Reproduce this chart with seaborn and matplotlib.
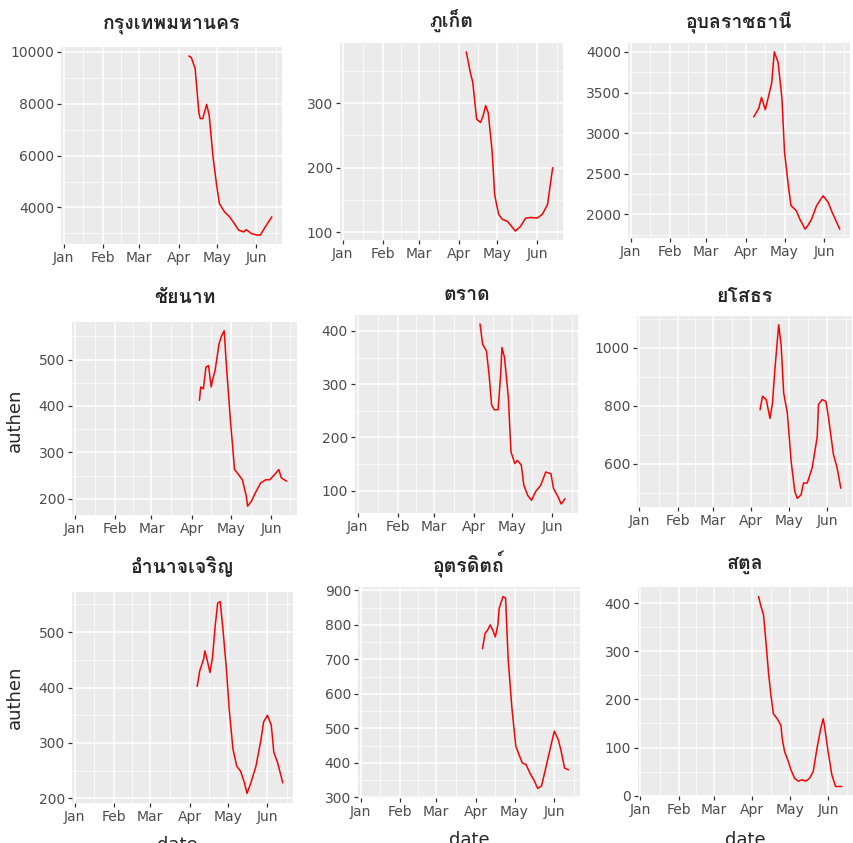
import pandas as pd
import matplotlib
matplotlib.use("Agg")
import matplotlib.pyplot as plt
import seaborn as sns
from matplotlib import font_manager
from matplotlib.ft2font import FT2Font

# day of year 2021 (0 = Jan 1) and "authen" values
bkk_day = [98, 100, 103, 106, 107, 109, 112, 114, 117, 120, 122, 126, 130, 134, 137, 141, 143, 147, 151, 154, 158, 163]
bkk_val = [9830, 9770, 9350, 7620, 7420, 7420, 7970, 7550, 5950, 4800, 4150, 3830, 3640, 3360, 3130, 3060, 3150, 3000, 2940, 2940, 3260, 3640]

pkt_day = [96, 99, 101, 104, 107, 109, 111, 113, 116, 118, 121, 124, 128, 130, 134, 138, 142, 146, 151, 155, 159, 163]
pkt_val = [379, 348, 332, 275, 270, 280, 296, 285, 226, 158, 128, 120, 117, 112, 102, 109, 122, 123, 122, 128, 143, 200]

ubn_day = [96, 100, 102, 105, 107, 110, 112, 115, 118, 120, 123, 125, 129, 132, 136, 138, 141, 145, 150, 154, 157, 163]
ubn_val = [3200, 3310, 3440, 3290, 3420, 3620, 4000, 3870, 3420, 2760, 2350, 2110, 2050, 1940, 1820, 1860, 1940, 2110, 2230, 2150, 2030, 1820]

cnt_day = [96, 97, 99, 101, 103, 105, 106, 108, 111, 113, 115, 117, 120, 123, 125, 129, 132, 133, 136, 139, 143, 147, 150, 155, 157, 159, 163]
cnt_val = [412, 441, 437, 484, 487, 441, 455, 476, 533, 551, 562, 476, 362, 263, 256, 241, 206, 184, 195, 213, 234, 241, 241, 256, 263, 245, 238]

trt_day = [95, 97, 100, 102, 104, 106, 109, 111, 112, 114, 117, 119, 122, 124, 127, 129, 132, 135, 138, 142, 146, 150, 152, 155, 158, 161]
trt_val = [413, 375, 362, 318, 261, 252, 252, 318, 369, 350, 274, 173, 151, 157, 148, 110, 91, 82, 98, 110, 135, 132, 104, 91, 75, 85]

yst_day = [97, 99, 102, 105, 107, 109, 112, 114, 116, 119, 122, 125, 127, 130, 132, 135, 139, 143, 144, 147, 150, 152, 156, 159, 162]
yst_val = [786, 833, 821, 756, 809, 927, 1080, 1009, 845, 774, 609, 503, 480, 492, 533, 533, 586, 692, 804, 821, 815, 762, 633, 586, 515]

acr_day = [96, 98, 101, 102, 104, 106, 108, 110, 112, 114, 116, 119, 121, 124, 127, 130, 133, 135, 138, 142, 146, 148, 151, 154, 156, 159, 163]
acr_val = [402, 430, 451, 466, 448, 427, 454, 509, 552, 555, 509, 430, 362, 289, 258, 249, 228, 209, 228, 258, 307, 338, 350, 332, 283, 264, 228]

utt_day = [95, 97, 99, 101, 103, 105, 107, 108, 111, 113, 115, 118, 121, 124, 126, 129, 132, 135, 138, 141, 144, 147, 151, 154, 156, 159, 162]
utt_val = [731, 775, 785, 800, 785, 765, 800, 848, 882, 878, 702, 556, 448, 419, 400, 395, 370, 351, 326, 333, 380, 429, 492, 468, 439, 385, 380]

stn_day = [95, 97, 99, 101, 103, 105, 107, 110, 113, 114, 116, 119, 121, 124, 127, 130, 133, 136, 139, 142, 145, 147, 148, 151, 154, 157, 162]
stn_val = [414, 393, 376, 318, 256, 208, 170, 160, 146, 119, 91, 71, 54, 36, 30, 33, 30, 36, 50, 98, 139, 160, 146, 91, 43, 19, 19]

titles = ["กรุงเทพมหานคร", "ภูเก็ต", "อุบลราชธานี",
          "ชัยนาท", "ตราด", "ยโสธร",
          "อำนาจเจริญ", "อุตรดิตถ์", "สตูล"]
y_ticks = [[4000, 6000, 8000, 10000], [100, 200, 300], [2000, 2500, 3000, 3500, 4000],
           [200, 300, 400, 500], [100, 200, 300, 400], [600, 800, 1000],
           [200, 300, 400, 500], [300, 400, 500, 600, 700, 800, 900], [0, 100, 200, 300, 400]]
month_labels = ["Jan", "Feb", "Mar", "Apr", "May", "Jun"]
month_starts = pd.to_datetime(["2021-01-01", "2021-02-01", "2021-03-01",
                               "2021-04-01", "2021-05-01", "2021-06-01"])

series = [(bkk_day, bkk_val), (pkt_day, pkt_val), (ubn_day, ubn_val),
          (cnt_day, cnt_val), (trt_day, trt_val), (yst_day, yst_val),
          (acr_day, acr_val), (utt_day, utt_val), (stn_day, stn_val)]

# panel boxes in pixels: left, top, right, bottom (the panels were pasted together by hand)
boxes = [(61, 47, 282, 244), (340, 43, 563, 240), (628, 43, 850, 238),
         (72, 322, 297, 515), (355, 315, 578, 513), (637, 316, 852, 507),
         (72, 592, 293, 803), (358, 587, 580, 798), (638, 587, 853, 796)]
title_y = [25, 20, 23, 298, 295, 297, 567, 565, 565]


def thai_font():
    # first installed font that has Thai glyphs
    for f in font_manager.fontManager.ttflist:
        try:
            if ord("ก") in FT2Font(f.fname).get_charmap():
                return f.name
        except Exception:
            pass
    return "DejaVu Sans"


sns.set_theme(style="darkgrid")
plt.rcParams["font.family"] = ["DejaVu Sans"]
thai = thai_font()

W, H = 854, 843
fig = plt.figure(figsize=(W / 100, H / 100), dpi=100)
fig.patch.set_facecolor("white")

for i, (days, vals) in enumerate(series):
    l, t, r, b = boxes[i]
    ax = fig.add_axes([l / W, 1 - b / H, (r - l) / W, (b - t) / H])
    df = pd.DataFrame({"date": pd.Timestamp("2021-01-01") + pd.to_timedelta(days, unit="D"),
                       "authen": vals})
    sns.lineplot(data=df, x="date", y="authen", ax=ax, color="red", linewidth=1.1, estimator=None)
    ax.set_facecolor("#EBEBEB")
    for s in ax.spines.values():
        s.set_visible(False)
    ax.set_xlim(pd.Timestamp("2020-12-30"), pd.Timestamp("2021-06-21"))
    ax.set_xticks(month_starts)
    ax.set_xticklabels(month_labels)
    mids = month_starts[:-1] + (month_starts[1:] - month_starts[:-1]) / 2
    ax.set_xticks(list(mids) + [pd.Timestamp("2021-06-16")], minor=True)
    yt = y_ticks[i]
    ax.set_yticks(yt)
    step = yt[1] - yt[0]
    ax.set_yticks([yt[0] - step / 2] + [v + step / 2 for v in yt], minor=True)
    # ggplot style 5% expansion around the data
    lo, hi = min(vals), max(vals)
    pad = (hi - lo) * 0.05
    ax.set_ylim(lo - pad, hi + pad)
    ax.grid(which="major", color="white", linewidth=1.1)
    ax.grid(which="minor", color="white", linewidth=0.5)
    ax.tick_params(which="major", length=3, width=0.9, color="#333333", labelsize=10,
                   labelcolor="#4D4D4D", pad=2, bottom=True, left=True)
    ax.tick_params(which="minor", length=0)
    ax.set_xlabel("")
    ax.set_ylabel("")
    fig.text((l + r) / 2 / W, 1 - title_y[i] / H, titles[i], ha="center", va="center",
             fontsize=14, fontweight="bold", family=[thai, "DejaVu Sans"])

fig.text(15 / W, 1 - 420 / H, "authen", rotation=90, ha="center", va="center", fontsize=13)
fig.text(15 / W, 1 - 697 / H, "authen", rotation=90, ha="center", va="center", fontsize=13)
# the bottom axis titles are cut by the lower edge of the picture
fig.text(177 / W, 1 - 836 / H, "date", ha="center", va="top", fontsize=13)
fig.text(469 / W, 1 - 831 / H, "date", ha="center", va="top", fontsize=13)
fig.text(745 / W, 1 - 831 / H, "date", ha="center", va="top", fontsize=13)

fig.savefig("out.png", dpi=100)
